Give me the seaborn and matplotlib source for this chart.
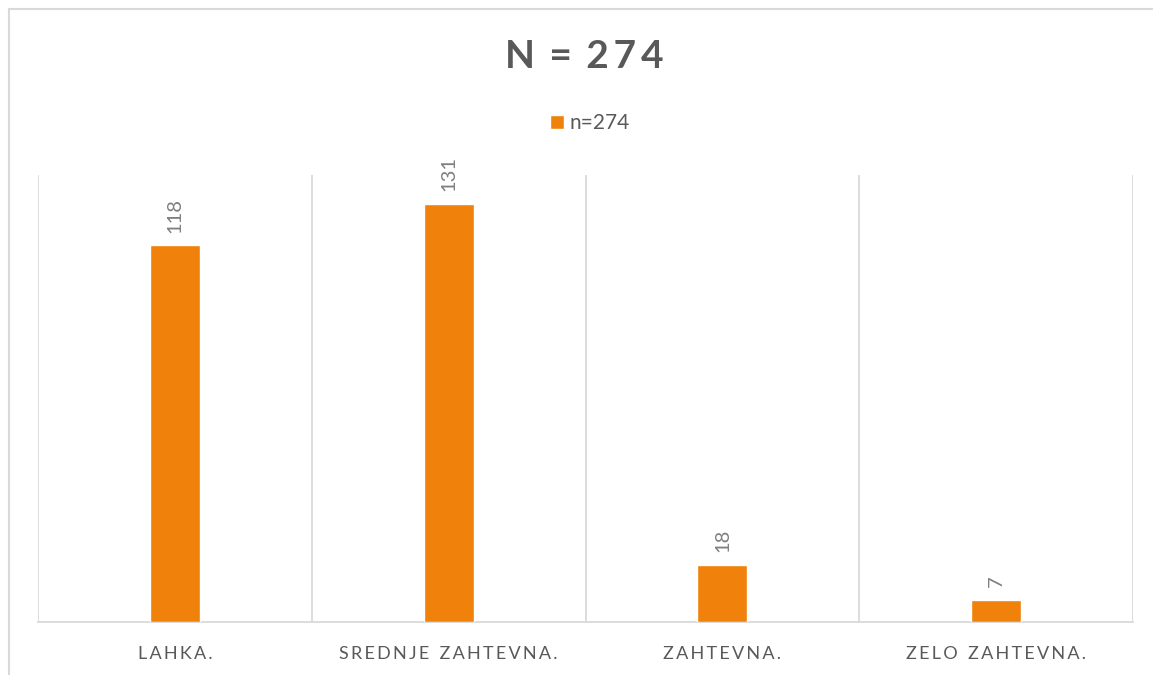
import matplotlib
matplotlib.use("Agg")
import matplotlib.pyplot as plt
from matplotlib.patches import Rectangle
import seaborn as sns
import pandas as pd

categories = ["LAHKA.", "SREDNJE ZAHTEVNA.", "ZAHTEVNA.", "ZELO ZAHTEVNA."]
values = [118, 131, 18, 7]
series_name = "n=274"
title = "N = 274"

BAR = "#F0810A"
TEXT = "#595959"
GRID = "#D9D9D9"

sns.set_theme(style="white")
plt.rcParams["font.family"] = ["Lato", "DejaVu Sans"]


def spaced(s, gap="\u2009", word_gap=" \u200a"):
    # widen the tracking of a label by inserting thin spaces between glyphs
    words = [gap.join(w) for w in s.split(" ")]
    return (gap + word_gap + gap).join(words) if len(words) > 1 else words[0]


df = pd.DataFrame({"cat": categories, "val": values})

fig = plt.figure(figsize=(11.53, 6.75), dpi=100)
ax = fig.add_axes([38 / 1153, 53 / 675, (1133 - 38) / 1153, (622 - 175) / 675])

sns.barplot(data=df, x="cat", y="val", color=BAR, width=0.183, saturation=1,
            label=series_name, ax=ax, zorder=3)

ax.set_ylim(0, 140)
ax.set_xlim(-0.5, len(categories) - 0.5)
ax.set_xlabel("")
ax.set_ylabel("")
ax.set_yticks([])
ax.set_xticks(range(len(categories)))
ax.set_xticklabels([spaced(c) for c in categories], color=TEXT, fontsize=13)
ax.tick_params(axis="x", length=0, pad=17)

# vertical separators between categories
for b in [i - 0.5 for i in range(len(categories) + 1)]:
    ax.axvline(b, color=GRID, lw=1.3, zorder=1)

for s in ["top", "right", "left"]:
    ax.spines[s].set_visible(False)
ax.spines["bottom"].set_color(GRID)
ax.spines["bottom"].set_linewidth(1.3)

# rotated value labels above each bar
for i, v in enumerate(values):
    ax.annotate(str(v), (i, v), xytext=(0, 9), textcoords="offset points",
                rotation=90, ha="center", va="bottom", color="#7F7F7F",
                fontsize=14.5)

leg = ax.legend(loc="center", bbox_to_anchor=(590 / 1153, 1 - 123 / 675),
                bbox_transform=fig.transFigure, frameon=False,
                handlelength=0.65, handleheight=0.65, handletextpad=0.3,
                fontsize=15)
for t in leg.get_texts():
    t.set_color(TEXT)

# bold title with widened tracking
title_text = "\u2009".join(title.split(" ")[0]) + " \u2009=\u2009 " + "\u2009".join(title.split(" ")[2])
fig.text(584 / 1153, 1 - 57 / 675, title_text, ha="center",
         va="center", fontsize=28, fontweight="bold", color=TEXT)

# chart frame
fig.patches.append(Rectangle((9 / 1153, -0.05), 1.1, 1 - 9 / 675 + 0.05,
                             transform=fig.transFigure, fill=False,
                             edgecolor=GRID, lw=1.5, zorder=0))

fig.savefig("out.png", dpi=100, facecolor="white")
